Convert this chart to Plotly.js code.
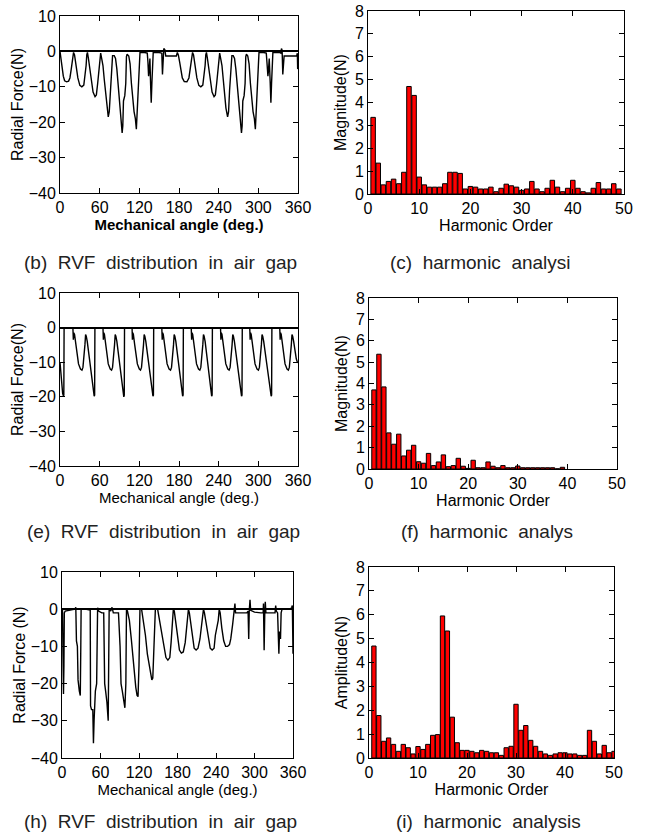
<!DOCTYPE html>
<html>
<head>
<meta charset="utf-8">
<script src="https://cdn.plot.ly/plotly-3.0.1.min.js"></script>
<style>
html,body{margin:0;padding:0;background:#fff;}
#chart{width:645px;height:837px;}
</style>
</head>
<body>
<div id="chart"></div>
<script>
// ---------- (b) RVF distribution, case 1 ----------
const B_angle = [0,1,3,5,7,10,13,15,17,19,20.5,22,23.5,25,27,30,33,36,38,39.5,40.5,41.5,43,45,47,50,53,55,57,59,60.5,61.5,63,65,67,69,71,73,74.5,76,78,79.5,82,84,86,88,90,92,94,95,96,98,99.5,100.5,101.5,104,106,108,110,112,114,115.5,116.5,117.5,119,120,121,128,132,133,134,135,136,137,138,139,140,141,150,154,155,156,157,158.5,160,170,176,177.5,
179,181,183,185,188,192,195,197,199,200.5,202,203.5,205,207,210,213,216,218,219.5,220.5,221.5,223,225,227,230,233,235,237,239,240.5,241.5,243,245,247,249,251,253.5,255,256.5,258.5,260,262,264,266,268,270,272,274.5,275.5,276.5,278.5,280,281,282,284,286,288,290,292,294,295.5,296.5,297.5,299,300,301,308,312,313,314.5,315.5,316.5,318,319,320,321,322,332,334,335,336,337,338,339,350,358,359,359.5,360];
const B_force = [0,-1.5,-4.5,-7,-8.3,-8.6,-8.4,-7.5,-5,-2,-0.3,-1,-3,-5,-7.5,-9.6,-10,-9.5,-7,-4,-1,-0.3,-2,-5,-8.5,-11.5,-12.8,-12.3,-9,-5,-1,-0.5,-2,-4,-8,-12,-16,-18.5,-17,-11,-4,-1.2,-1.2,-2,-5,-9,-15,-19,-23,-21,-14,-12.5,-9,-1.5,-0.8,-1.3,-3.5,-9,-14,-17,-19,-22,-18,-13,-11,-3,-0.3,-0.3,-0.5,-3,-7,-5,-2,-9,-14.5,-9,-0.5,-0.3,-0.3,-0.5,-6.5,-2,0.8,0.5,-1.3,-1.3,-1.3,-0.3,
-1,-3,-5.5,-7.5,-8.5,-8.6,-7.5,-5,-2,-0.3,-1,-3,-5,-7.5,-9.6,-10,-9.5,-7,-4,-1,-0.3,-2,-5,-8.5,-11.5,-12.8,-12.3,-9,-5,-1,-0.5,-2,-4,-8,-12,-16,-18.5,-17,-11,-4,-1.2,-1.2,-2,-5,-9,-15,-19,-23,-21,-14,-12.5,-9,-1.5,-0.8,-1.3,-3.5,-9,-14,-17,-19,-22,-18,-13,-11,-3,-0.3,-0.3,-0.5,-3,-7,-5,-2,-9,-14.5,-9,-0.5,-0.3,-0.3,-0.5,0.8,0.3,-6.5,-2,-1.3,-1.3,-1.3,-0.5,-5,-4];

// ---------- (c) harmonic analysis, case 1 ----------
const C_order = [1,2,3,4,5,6,7,8,9,10,11,12,13,14,15,16,17,18,19,20,21,22,23,24,25,26,27,28,29,30,31,32,33,34,35,36,37,38,39,40,41,42,43,44,45,46,47,48,49];
const C_mag = [3.35,1.35,0.4,0.55,0.65,0.45,0.95,4.7,4.31,0.74,0.4,0.3,0.3,0.3,0.45,0.95,0.95,0.9,0.22,0.33,0.3,0.22,0.22,0.3,0.1,0.25,0.43,0.36,0.3,0.16,0.22,0.55,0.22,0.1,0.25,0.6,0.3,0.1,0.25,0.6,0.25,0.1,0.05,0.25,0.5,0.22,0.22,0.45,0.22];

// ---------- (e) RVF distribution, case 2 ----------
const E_angle = [0,2,4,5.2,5.8,6.2,19.5,20.2,20.8,22,24,26,28,31,33.2,34.7,36.2,37.7,38.7,39.7,41.2,43.2,45.2,47.2,49.2,51.7,52.4,52.8,
65,65.6,66.2,67.2,69,71,73,76,78,79.5,81,82.5,83.5,84.5,86,88,90,92,94,96.5,97.2,97.6,
109,109.5,110.1,111,113,115,117,120,121.8,123.3,124.8,126.3,127.3,128.3,129.8,131.8,133.8,135.8,137.8,140.6,141.3,141.7,
154,154.6,155.2,156.2,158,160,162,165,167.2,168.7,170.2,171.7,172.7,173.7,175.2,177.2,179.2,181.2,183.2,185.5,186.2,186.6,
198.5,199.1,199.7,200.7,202.5,204.5,206.5,209.5,211.5,213,214.5,216,217,218,219.5,221.5,223.5,225.5,227.5,229.4,230.1,230.5,
242.8,243.4,244,245,246.8,248.8,250.8,253.8,255.8,257.3,258.8,260.3,261.3,262.3,263.8,265.8,267.8,269.8,271.8,274.6,275.3,275.7,
287,287.6,288.2,289.2,291,293,295,298,300.1,301.6,303.1,304.6,305.6,306.6,308.1,310.1,312.1,314.1,316.1,319.4,320.1,320.5,
332.4,333,333.6,334.6,336.4,338.4,340.4,343.4,345.4,346.9,348.4,349.9,350.9,351.9,353.4,355.4,357.4,359,360];
const E_force = [-10,-15,-19,-19.8,-19.5,0,0,-3.5,-1.5,-2,-5,-8,-10.5,-12,-12.3,-11.5,-9,-5,-2,-2.5,-4,-7,-10,-12.5,-16,-19.8,-19.5,0,
0,-3.5,-1.5,-2,-5,-8,-10.5,-12,-12.3,-11.5,-9,-5,-2,-2.5,-4,-7,-10,-12.5,-16,-20,-19.5,0,
0,-3.5,-1.5,-2,-5,-8,-10.5,-12,-12.3,-11.5,-9,-5,-2,-2.5,-4,-7,-10,-12.5,-16,-19.8,-19.5,0,
0,-3.5,-1.5,-2,-5,-8,-10.5,-12,-12.3,-11.5,-9,-5,-2,-2.5,-4,-7,-10,-12.5,-16,-19.8,-19.5,0,
0,-3.5,-1.5,-2,-5,-8,-10.5,-12,-12.3,-11.5,-9,-5,-2,-2.5,-4,-7,-10,-12.5,-16,-19.8,-19.5,0,
0,-3.5,-1.5,-2,-5,-8,-10.5,-12,-12.3,-11.5,-9,-5,-2,-2.5,-4,-7,-10,-12.5,-16,-19.8,-19.5,0,
0,-3.5,-1.5,-2,-5,-8,-10.5,-12,-12.3,-11.5,-9,-5,-2,-2.5,-4,-7,-10,-12.5,-16,-19.8,-19.5,0,
0,-3.5,-1.5,-2,-5,-8,-10.5,-12,-12.3,-11.5,-9,-5,-2,-2.5,-4,-7,-9,-10,-10.2];

// ---------- (f) harmonic analysis, case 2 ----------
const F_order = [1,2,3,4,5,6,7,8,9,10,11,12,13,14,15,16,17,18,19,20,21,22,23,24,25,26,27,28,29,30,31,32,33,34,35,36,37,38,39];
const F_mag = [3.7,5.37,3.84,1.69,1.16,1.63,0.61,0.88,1.11,0.34,0.27,0.73,0.16,0.33,0.66,0.11,0.16,0.5,0.13,0.03,0.41,0.06,0.06,0.33,0.13,0.06,0.16,0.06,0.06,0.14,0.06,0.06,0.06,0.06,0.06,0.06,0.06,0.01,0.08];

// ---------- (h) RVF distribution, case 3 ----------
const H_angle = [0,0.8,1.5,2.3,3,3.6,5,10,20,21.5,22.5,24,25,27,28.5,29.3,29.8,38,42,44,44.5,46,48,49,50,52,54,54.5,55.5,57,62,65,66.5,68,70,72,72.8,73.5,76,78,80,88,90.5,92,94,96,98,99.5,100.5,102,105,108,111,113,115,117,118.5,120,121.5,124,127,130,133,136,138,140,141.5,143,144.5,145.5,149,150,153,156,159,162,165,168,170,172,173.5,175,177,180,183,186,189,192,195,197,198.5,200,203,206,209,212,215,218,220.5,222,225,228,231,234,237,239,241,243.5,245,246.5,249,252,255,258,261,263,266,268.5,269.5,270.5,280,288,290,291,291.8,293,294,300,310,313.5,314,315,316,316.8,317.8,325,332,333,334,336,337,338,339,340.5,341.5,343,352,356,358,359,360];
const H_force = [0,-0.3,-12,-22.8,-15,-1,-0.5,-0.3,0,0.5,-8.5,-10,-19,-22,-23.2,-10,0,0,0,-0.2,-26,-27,-27,-36,-30,-22,-20,0,0.4,-0.5,-1,-1,-20,-22,-25,-30,-20,0,-0.5,0.5,-1,-1,-10,-20,-22,-25,-26.5,-20,0,-0.5,-3,-8,-14,-18,-21,-23.2,-23.5,-15,0,0,-3,-7,-12,-15,-17,-19,-18.5,-12,-2,0,0,-1,-4,-8,-11,-13,-13.7,-13,-9,-3,0,-0.5,-3,-8,-11,-11.8,-11.5,-9,-4,0,-1,-3,-7,-10.5,-11,-10.5,-8,-4,0,-1,-4,-8,-10.5,-11,-10.5,-7,-5,-3,0,-1,-5,-8.5,-10,-10,-9.5,-8,-4,-0.5,1.5,-1,-1,-1,-0.5,-8,-0.5,2.5,-0.3,-0.8,-1,-1,1.5,-11,-1,2,-1,-1,-1,1,-0.5,-1,-8,-12,-6,-8,-1,0,0,0,0.5,1,-12];

// ---------- (i) harmonic analysis, case 3 ----------
const I_order = [1,2,3,4,5,6,7,8,9,10,11,12,13,14,15,16,17,18,19,20,21,22,23,24,25,26,27,28,29,30,31,32,33,34,35,36,37,38,39,40,41,42,43,44,45,46,47,48,49,50];
const I_amp = [4.69,1.78,0.7,0.84,0.57,0.28,0.57,0.43,0.17,0.48,0.36,0.57,0.95,0.98,5.95,5.32,1.71,0.64,0.32,0.32,0.28,0.22,0.32,0.28,0.22,0.22,0.11,0.43,0.49,2.25,1.16,1.36,0.74,0.49,0.28,0.17,0.11,0.17,0.22,0.22,0.17,0.17,0.11,0.11,1.16,0.7,0.17,0.53,0.22,0.28];

// ---------- captions & titles ----------
const CAPTIONS = [
  "(b)\u00a0\u00a0RVF\u00a0\u00a0distribution\u00a0\u00a0in\u00a0\u00a0air\u00a0\u00a0gap",
  "(c)\u00a0\u00a0harmonic\u00a0\u00a0analysi",
  "(e)\u00a0\u00a0RVF\u00a0\u00a0distribution\u00a0\u00a0in\u00a0\u00a0air\u00a0\u00a0gap",
  "(f)\u00a0\u00a0harmonic\u00a0\u00a0analys",
  "(h)\u00a0\u00a0RVF\u00a0\u00a0distribution\u00a0\u00a0in\u00a0\u00a0air\u00a0\u00a0gap",
  "(i)\u00a0\u00a0harmonic\u00a0\u00a0analysis"
];
const LINE_XTITLES = ["<b>Mechanical angle (deg.)</b>", "Mechanical angle (deg.)", "Mechanical angle (deg.)"];
const LINE_YTITLES = ["Radial Force(N)", "Radial Force(N)", "Radial Force (N)"];
const BAR_XTITLE = "Harmonic Order";
const BAR_YTITLES = ["Magnitude(N)", "Magnitude(N)", "Amplitude(N)"];

const W = 645, H = 837;
const FONT = "Liberation Sans, Arial, sans-serif";
const NARROW = "Liberation Sans Narrow, Arial Narrow, Liberation Sans, sans-serif";

function px2x(a,b){return [a/W,b/W];}
function px2y(top,bot){return [1-bot/H,1-top/H];}

const domains = [
  {x:px2x(60,298), y:px2y(16,193)},
  {x:px2x(368,624), y:px2y(11,194)},
  {x:px2x(60,298), y:px2y(293,466)},
  {x:px2x(369,617), y:px2y(298,469)},
  {x:px2x(62,293), y:px2y(572,758)},
  {x:px2x(369,614), y:px2y(567,758)}
];

function baseAxis(){
  return {showline:true, linecolor:'#000', linewidth:1, mirror:'allticks', ticks:'inside',
    ticklen:5, tickcolor:'#000', showgrid:false, zeroline:false, fixedrange:true,
    tickfont:{family:FONT, size:16, color:'#000'}};
}

const data = [];
const layout = {
  width:W, height:H, margin:{l:0,r:0,t:0,b:0}, paper_bgcolor:'#fff', plot_bgcolor:'#fff',
  showlegend:false, bargap:0, annotations:[]
};

const lineSets = [[B_angle,B_force],[E_angle,E_force],[H_angle,H_force]];
const barSets = [[C_order,C_mag],[F_order,F_mag],[I_order,I_amp]];

for (let r=0;r<3;r++){
  const li = 2*r+1, bi = 2*r+2;
  const xl = baseAxis(), yl = baseAxis();
  const narrow = (r===2);
  Object.assign(xl,{domain:domains[2*r].x, anchor:'y'+li, range:[0,360], tickvals:[0,60,120,180,240,300,360],
    title:{text:LINE_XTITLES[r], font:{family:narrow?NARROW:FONT, size:15, color:'#000'}, standoff:3}});
  Object.assign(yl,{domain:domains[2*r].y, anchor:'x'+li, range:[-40,10], tickvals:[-40,-30,-20,-10,0,10],
    zeroline:true, zerolinecolor:'#000', zerolinewidth:2,
    title:{text:LINE_YTITLES[r], font:{family:narrow?NARROW:FONT, size:16, color:'#000'}, standoff:1}});
  layout['xaxis'+li] = xl; layout['yaxis'+li] = yl;
  data.push({type:'scatter', mode:'lines', x:lineSets[r][0], y:lineSets[r][1],
    xaxis:'x'+li, yaxis:'y'+li, line:{color:'#000', width:1.4}, hoverinfo:'skip'});
  const xb = baseAxis(), yb = baseAxis();
  Object.assign(xb,{domain:domains[2*r+1].x, anchor:'y'+bi, range:[0,50], tickvals:[0,10,20,30,40,50],
    title:{text:BAR_XTITLE, font:{family:FONT, size:16, color:'#000'}, standoff:2}});
  Object.assign(yb,{domain:domains[2*r+1].y, anchor:'x'+bi, range:[0,8], tickvals:[0,1,2,3,4,5,6,7,8],
    title:{text:BAR_YTITLES[r], font:{family:FONT, size:16, color:'#000'}, standoff:4}});
  layout['xaxis'+bi] = xb; layout['yaxis'+bi] = yb;
  data.push({type:'bar', x:barSets[r][0], y:barSets[r][1], width:0.88,
    xaxis:'x'+bi, yaxis:'y'+bi, marker:{color:'#ff0000', line:{color:'#000', width:1}}, hoverinfo:'skip'});
}

const capY = [262, 531, 821];
const capX = [[160,480],[163,487],[160,488]];
for (let r=0;r<3;r++){
  for (let c=0;c<2;c++){
    layout.annotations.push({text:CAPTIONS[2*r+c], xref:'paper', yref:'paper',
      x:capX[r][c]/W, y:1-capY[r]/H, xanchor:'center', yanchor:'middle', showarrow:false,
      font:{family:FONT, size:19, color:'#222'}});
  }
}

Plotly.newPlot('chart', data, layout, {staticPlot:true, displayModeBar:false});
</script>
</body>
</html>
